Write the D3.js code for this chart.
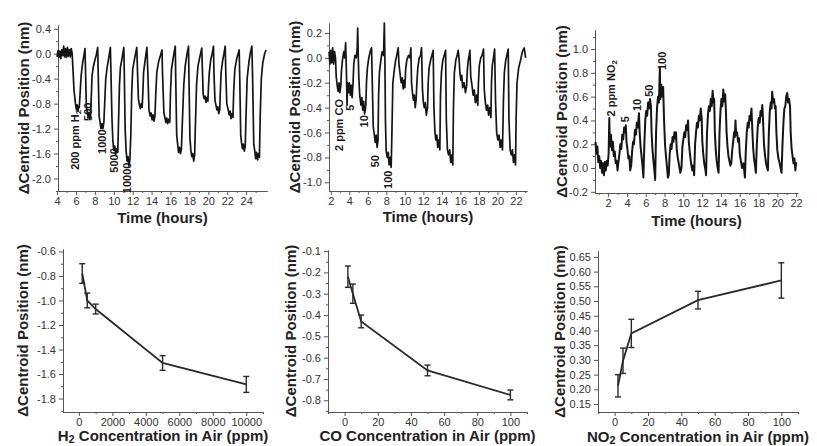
<!DOCTYPE html>
<html>
<head>
<meta charset="utf-8">
<script src="https://cdn.jsdelivr.net/npm/d3@7"></script>
<style>
body { margin: 0; background: #fff; }
svg { display: block; }
text { font-family: "Liberation Sans", Arial, sans-serif; fill: #262626; }
.axis path, .axis line { stroke: #555; stroke-width: 1; }
.axis text { font-size: 11px; fill: #333; }
.title { font-size: 15px; font-weight: bold; fill: #222; }
.note { font-size: 11px; font-weight: bold; fill: #1a1a1a; }
</style>
</head>
<body>
<svg id="fig" width="817" height="446"></svg>
<script>
// ---- top row: sensor response traces, [hours, nm]
const h2Trace = [
  [4.0,-0.05],[4.1,0.05],[4.2,-0.06],[4.3,0.04],[4.4,-0.08],[4.5,0.06],[4.6,-0.03],[4.7,0.12],[4.8,-0.05],[4.9,0.08],
  [5.0,-0.06],[5.1,0.1],[5.2,-0.04],[5.3,0.06],[5.4,-0.05],[5.5,0.08],[5.6,0.0],
  [5.7,-0.3],[5.8,-0.6],[5.95,-0.8],[6.05,-0.9],[6.12,-0.82],[6.2,-0.92],[6.28,-0.84],[6.35,-0.86],[6.45,-0.6],[6.55,-0.35],[6.7,-0.15],[6.85,-0.02],[6.95,0.08],
  [7.0,-0.2],[7.1,-0.85],[7.2,-0.95],[7.3,-1.02],[7.38,-0.94],[7.46,-1.05],[7.55,-0.98],[7.62,-0.7],[7.7,-0.35],[7.85,-0.2],[8.0,-0.1],[8.15,-0.02],[8.3,0.1],
  [8.35,-0.3],[8.45,-1.0],[8.55,-1.1],[8.65,-1.2],[8.75,-1.12],[8.85,-1.2],[8.95,-1.1],[9.05,-0.75],[9.15,-0.4],[9.3,-0.22],[9.45,-0.08],[9.64,0.1],
  [9.7,-0.3],[9.8,-1.0],[9.9,-1.4],[10.0,-1.55],[10.1,-1.48],[10.2,-1.62],[10.3,-1.52],[10.42,-1.58],[10.5,-1.1],[10.6,-0.5],[10.7,-0.22],[10.9,-0.05],[11.06,0.1],
  [11.12,-0.4],[11.2,-1.2],[11.3,-1.55],[11.4,-1.72],[11.5,-1.65],[11.6,-1.8],[11.7,-1.7],[11.8,-1.3],[11.9,-0.6],[12.0,-0.25],[12.2,-0.08],[12.43,0.1],
  [12.5,-0.25],[12.6,-0.72],[12.7,-0.82],[12.8,-0.88],[12.9,-0.8],[13.0,-0.86],[13.08,-0.6],[13.15,-0.3],[13.3,-0.12],[13.5,0.1],
  [13.6,-0.3],[13.72,-0.9],[13.85,-1.0],[13.95,-0.95],[14.05,-1.06],[14.15,-0.98],[14.25,-1.08],[14.35,-1.0],[14.45,-0.6],[14.55,-0.3],[14.75,-0.12],[14.95,-0.02],[15.1,0.06],
  [15.15,-0.3],[15.3,-0.95],[15.4,-1.02],[15.5,-1.1],[15.6,-1.03],[15.7,-1.12],[15.82,-1.05],[15.92,-1.1],[16.0,-0.6],[16.1,-0.25],[16.3,-0.05],[16.5,0.12],
  [16.55,-0.4],[16.65,-1.3],[16.75,-1.45],[16.85,-1.58],[16.95,-1.5],[17.05,-1.6],[17.15,-1.52],[17.25,-1.1],[17.4,-0.5],[17.55,-0.2],[17.75,0.0],[17.9,0.12],
  [17.95,-0.4],[18.05,-1.35],[18.15,-1.55],[18.25,-1.65],[18.35,-1.6],[18.45,-1.72],[18.55,-1.62],[18.62,-1.2],[18.75,-0.5],[18.9,-0.2],[19.1,-0.05],[19.3,0.09],
  [19.38,-0.3],[19.45,-0.65],[19.55,-0.72],[19.65,-0.68],[19.75,-0.78],[19.85,-0.7],[19.95,-0.76],[20.02,-0.5],[20.1,-0.3],[20.25,-0.1],[20.4,0.0],[20.54,0.12],
  [20.6,-0.35],[20.7,-0.75],[20.8,-0.82],[20.9,-0.9],[21.0,-0.85],[21.1,-0.96],[21.2,-0.9],[21.27,-0.6],[21.35,-0.3],[21.5,-0.12],[21.65,0.0],[21.78,0.12],
  [21.85,-0.35],[21.95,-0.8],[22.1,-0.9],[22.2,-0.98],[22.3,-0.92],[22.4,-1.04],[22.5,-0.96],[22.6,-1.02],[22.68,-0.6],[22.8,-0.25],[23.0,-0.08],[23.26,0.06],
  [23.32,-0.4],[23.42,-1.3],[23.5,-1.42],[23.6,-1.52],[23.7,-1.45],[23.8,-1.56],[23.9,-1.48],[23.98,-1.0],[24.1,-0.4],[24.3,-0.12],[24.45,0.02],[24.6,0.12],
  [24.68,-0.4],[24.8,-1.45],[24.9,-1.55],[25.0,-1.68],[25.1,-1.58],[25.2,-1.7],[25.3,-1.6],[25.4,-1.66],[25.48,-1.0],[25.6,-0.4],[25.75,-0.15],[25.95,0.0],[26.1,0.06]
]
const coTrace = [
  [1.8,0.05],[1.9,-0.05],[2.0,0.06],[2.1,-0.04],[2.2,0.08],[2.3,-0.05],[2.4,0.05],[2.5,0.0],
  [2.58,-0.15],[2.68,-0.22],[2.78,-0.27],[2.88,-0.2],[2.98,-0.28],[3.08,-0.22],[3.15,-0.1],[3.25,-0.02],[3.4,0.05],[3.5,0.0],[3.6,0.12],
  [3.68,-0.1],[3.75,-0.38],[3.8,-0.2],[3.9,-0.28],[4.0,-0.2],[4.1,-0.3],[4.2,-0.22],[4.3,-0.32],[4.4,-0.2],[4.48,-0.05],[4.6,0.02],[4.75,0.0],[4.85,0.08],[4.9,0.24],[4.95,0.05],
  [5.02,-0.15],[5.12,-0.3],[5.25,-0.38],[5.35,-0.32],[5.45,-0.42],[5.55,-0.35],[5.65,-0.45],[5.78,-0.38],[5.85,-0.2],[5.95,-0.08],[6.1,0.0],[6.25,0.05],[6.4,0.08],
  [6.48,-0.2],[6.58,-0.55],[6.7,-0.62],[6.8,-0.68],[6.9,-0.62],[7.0,-0.72],[7.1,-0.66],[7.16,-0.3],[7.25,-0.12],[7.4,-0.02],[7.55,0.05],[7.7,0.02],[7.78,0.28],[7.84,0.0],
  [7.9,-0.5],[7.98,-0.75],[8.1,-0.8],[8.2,-0.76],[8.3,-0.86],[8.42,-0.8],[8.52,-0.88],[8.6,-0.6],[8.7,-0.2],[8.85,-0.1],[9.0,-0.02],[9.15,0.03],[9.28,0.08],
  [9.36,-0.05],[9.5,-0.14],[9.6,-0.2],[9.72,-0.16],[9.82,-0.25],[9.92,-0.18],[10.0,-0.24],[10.08,-0.1],[10.2,-0.02],[10.4,0.02],[10.55,0.0],[10.65,0.08],
  [10.72,-0.2],[10.82,-0.28],[10.92,-0.34],[11.02,-0.3],[11.12,-0.4],[11.22,-0.33],[11.3,-0.2],[11.4,-0.08],[11.55,0.0],[11.7,0.02],[11.8,0.08],
  [11.9,-0.25],[12.0,-0.36],[12.1,-0.4],[12.2,-0.36],[12.32,-0.46],[12.45,-0.4],[12.52,-0.2],[12.62,-0.08],[12.78,-0.02],[12.92,0.02],[13.06,0.06],
  [13.14,-0.4],[13.25,-0.6],[13.35,-0.66],[13.45,-0.62],[13.55,-0.72],[13.68,-0.66],[13.78,-0.74],[13.85,-0.3],[13.95,-0.12],[14.1,-0.02],[14.25,0.02],[14.4,0.06],
  [14.48,-0.5],[14.6,-0.74],[14.72,-0.78],[14.84,-0.74],[14.96,-0.84],[15.08,-0.78],[15.18,-0.86],[15.25,-0.4],[15.35,-0.12],[15.5,-0.02],[15.65,0.02],[15.76,0.06],
  [15.85,0.0],[15.95,-0.12],[16.05,-0.18],[16.15,-0.14],[16.25,-0.24],[16.4,-0.2],[16.55,-0.28],[16.68,-0.22],[16.75,-0.1],[16.85,-0.02],[16.95,0.02],[17.03,0.06],
  [17.12,-0.15],[17.25,-0.22],[17.38,-0.3],[17.5,-0.26],[17.62,-0.36],[17.75,-0.3],[17.88,-0.38],[17.95,-0.2],[18.05,-0.06],[18.2,0.0],[18.35,0.02],[18.5,0.07],
  [18.58,-0.25],[18.7,-0.36],[18.82,-0.42],[18.95,-0.38],[19.05,-0.46],[19.18,-0.4],[19.3,-0.48],[19.36,-0.2],[19.45,-0.06],[19.58,0.0],[19.7,0.07],
  [19.8,-0.35],[19.92,-0.6],[20.05,-0.66],[20.18,-0.62],[20.3,-0.72],[20.42,-0.66],[20.55,-0.74],[20.65,-0.35],[20.75,-0.12],[20.9,-0.02],[21.05,0.03],[21.17,0.07],
  [21.25,-0.5],[21.38,-0.74],[21.5,-0.78],[21.62,-0.74],[21.74,-0.84],[21.86,-0.78],[21.96,-0.86],[22.02,-0.5],[22.12,-0.2],[22.3,-0.08],[22.5,-0.02],[22.7,0.05],[22.9,0.08],[23.05,0.0]
]
const no2Trace = [
  [0.65,0.22],[0.75,0.12],[0.85,0.18],[0.95,0.05],[1.05,0.1],[1.15,0.0],[1.25,0.06],[1.35,-0.04],[1.45,0.04],[1.55,-0.06],[1.65,0.05],[1.75,-0.02],[1.85,0.06],[1.95,0.02],
  [2.05,0.12],[2.12,0.42],[2.18,0.18],[2.3,0.28],[2.4,0.15],[2.5,0.22],[2.6,0.1],[2.7,0.14],[2.8,0.04],[2.9,0.06],[3.0,-0.02],[3.08,0.04],
  [3.2,0.12],[3.3,0.2],[3.4,0.16],[3.5,0.28],[3.6,0.24],[3.7,0.34],[3.8,0.3],[3.88,0.36],[3.95,0.22],[4.05,0.16],[4.15,0.08],[4.25,0.1],[4.35,-0.02],[4.45,0.02],
  [4.55,0.14],[4.65,0.22],[4.75,0.2],[4.85,0.32],[4.95,0.28],[5.05,0.38],[5.15,0.34],[5.28,0.46],[5.35,0.3],[5.45,0.18],[5.55,0.1],[5.65,0.02],[5.75,-0.08],
  [5.85,0.2],[5.95,0.4],[6.05,0.48],[6.15,0.44],[6.25,0.55],[6.35,0.5],[6.45,0.58],[6.55,0.52],[6.62,0.3],[6.72,0.15],[6.82,0.06],[6.92,-0.02],[7.0,-0.1],
  [7.1,0.3],[7.2,0.5],[7.3,0.6],[7.4,0.55],[7.5,0.84],[7.55,0.58],[7.65,0.7],[7.75,0.6],[7.85,0.68],[7.95,0.4],[8.05,0.2],[8.15,0.1],[8.25,0.02],[8.35,-0.08],
  [8.45,-0.06],[8.55,0.12],[8.65,0.2],[8.75,0.16],[8.85,0.26],[8.95,0.22],[9.05,0.3],[9.15,0.25],[9.22,0.3],[9.3,0.15],[9.42,0.08],[9.55,0.02],[9.68,-0.04],[9.8,0.0],
  [9.9,0.18],[10.0,0.24],[10.1,0.3],[10.2,0.26],[10.3,0.36],[10.4,0.32],[10.5,0.4],[10.58,0.22],[10.7,0.12],[10.82,0.04],[10.95,-0.02],[11.05,0.02],[11.15,-0.06],
  [11.25,0.2],[11.35,0.3],[11.45,0.38],[11.55,0.34],[11.65,0.44],[11.75,0.4],[11.85,0.5],[11.95,0.42],[12.02,0.22],[12.12,0.12],[12.22,0.04],[12.32,0.0],[12.42,-0.06],
  [12.52,0.3],[12.62,0.45],[12.72,0.52],[12.82,0.48],[12.92,0.58],[13.02,0.52],[13.12,0.65],[13.2,0.55],[13.28,0.58],[13.35,0.3],[13.45,0.15],[13.55,0.06],[13.65,0.0],[13.75,-0.04],
  [13.85,0.3],[13.95,0.48],[14.05,0.58],[14.15,0.52],[14.25,0.66],[14.35,0.56],[14.45,0.62],[14.52,0.5],[14.6,0.3],[14.7,0.18],[14.8,0.1],[14.9,0.06],[15.0,0.02],[15.1,0.04],
  [15.2,0.15],[15.3,0.22],[15.4,0.3],[15.48,0.26],[15.55,0.4],[15.62,0.28],[15.72,0.3],[15.82,0.22],[15.92,0.25],[16.0,0.12],[16.12,0.06],[16.25,0.0],[16.4,0.04],[16.55,-0.08],
  [16.65,0.15],[16.75,0.3],[16.85,0.38],[16.95,0.34],[17.05,0.44],[17.15,0.4],[17.25,0.5],[17.32,0.36],[17.42,0.18],[17.52,0.08],[17.62,0.02],[17.72,-0.04],
  [17.82,0.2],[17.92,0.35],[18.02,0.42],[18.12,0.38],[18.22,0.48],[18.32,0.44],[18.4,0.53],[18.48,0.4],[18.58,0.2],[18.7,0.1],[18.8,0.04],[18.92,0.0],[19.0,-0.02],
  [19.1,0.3],[19.2,0.48],[19.3,0.55],[19.38,0.5],[19.45,0.64],[19.55,0.55],[19.65,0.58],[19.75,0.5],[19.82,0.52],[19.9,0.3],[20.0,0.15],[20.12,0.08],[20.25,0.04],[20.35,0.0],[20.45,-0.04],
  [20.55,0.2],[20.65,0.38],[20.75,0.5],[20.85,0.52],[20.95,0.6],[21.05,0.63],[21.15,0.55],[21.25,0.58],[21.35,0.52],[21.42,0.3],[21.52,0.16],[21.62,0.1],[21.72,0.04],[21.82,0.08],[21.92,-0.02],[22.0,0.05]
]

// pulse annotations: [text, subscript] and where they sit in data units
const h2Notes = [["200 ppm H","2"],["500",""],["1000",""],["5000",""],["10000",""]]
const h2NoteAt = [[5.9,-1.38],[7.28,-0.93],[8.81,-1.41],[10.08,-1.71],[11.38,-1.99]]
const coNotes = [["2 ppm CO",""],["5",""],["10",""],["50",""],["100",""]]
const coNoteAt = [[2.92,-0.54],[4.05,-0.40],[5.57,-0.51],[6.76,-0.83],[8.16,-0.98]]
const no2Notes = [["2 ppm NO","2"],["5",""],["10",""],["50",""],["100",""]]
const no2NoteAt = [[2.37,0.67],[3.76,0.41],[5.09,0.53],[6.36,0.65],[7.74,0.90]]

// ---- bottom row: calibration curves
const h2Conc = [200, 500, 1000, 5000, 10000]
const h2Shift = [-0.78, -1.00, -1.07, -1.51, -1.685]
const h2Err = [0.08, 0.06, 0.04, 0.06, 0.065]
const coConc = [2, 5, 10, 50, 100]
const coShift = [-0.22, -0.30, -0.43, -0.66, -0.775]
const coErr = [0.05, 0.045, 0.03, 0.025, 0.023]
const no2Conc = [2, 5, 10, 50, 100]
const no2Shift = [0.212, 0.297, 0.39, 0.503, 0.57]
const no2Err = [0.038, 0.043, 0.048, 0.03, 0.06]

// ---- tick labels
const timeTicksA = [4, 6, 8, 10, 12, 14, 16, 18, 20, 22, 24]
const timeTicksB = [2, 4, 6, 8, 10, 12, 14, 16, 18, 20, 22]
const h2TraceY = [0.4, 0.0, -0.4, -0.8, -1.2, -1.6, -2.0]
const coTraceY = [0.2, 0.0, -0.2, -0.4, -0.6, -0.8, -1.0]
const no2TraceY = [1.0, 0.8, 0.6, 0.4, 0.2, 0.0, -0.2]
const h2ConcTicks = [0, 2000, 4000, 6000, 8000, 10000]
const ppmTicks = [0, 20, 40, 60, 80, 100]
const h2ShiftTicks = [-0.6, -0.8, -1.0, -1.2, -1.4, -1.6, -1.8]
const coShiftTicks = [-0.1, -0.2, -0.3, -0.4, -0.5, -0.6, -0.7, -0.8]
const no2ShiftTicks = [0.65, 0.60, 0.55, 0.50, 0.45, 0.40, 0.35, 0.30, 0.25, 0.20, 0.15]

const yTitle = "\u0394Centroid Position (nm)"

const svg = d3.select("#fig")

function midpoints(t) {
  const s = t.slice().sort((a, b) => a - b)
  const step = s[1] - s[0]
  return d3.range(s[0] - step / 2, s[s.length - 1] + step, step)
}

// axes frame in Origin style: left + bottom only, major and minor ticks outside
function frame(o) {
  const x = d3.scaleLinear().domain(o.xDom).range([o.box[0], o.box[1]])
  const y = d3.scaleLinear().domain(o.yDom).range([o.box[3], o.box[2]])
  const inX = v => v >= o.xDom[0] && v <= o.xDom[1]
  const inY = v => v >= o.yDom[0] && v <= o.yDom[1]
  const g = svg.append("g")

  g.append("g").attr("class", "axis")
    .attr("transform", "translate(0," + o.box[3] + ")")
    .call(d3.axisBottom(x).tickValues(o.xMinor.filter(inX)).tickSize(2).tickSizeOuter(0).tickFormat(""))
  g.append("g").attr("class", "axis")
    .attr("transform", "translate(0," + o.box[3] + ")")
    .call(d3.axisBottom(x).tickValues(o.xTicks).tickSize(4).tickSizeOuter(0).tickPadding(2).tickFormat(o.xFmt))
  g.append("g").attr("class", "axis")
    .attr("transform", "translate(" + o.box[0] + ",0)")
    .call(d3.axisLeft(y).tickValues(o.yMinor.filter(inY)).tickSize(2).tickSizeOuter(0).tickFormat(""))
  g.append("g").attr("class", "axis")
    .attr("transform", "translate(" + o.box[0] + ",0)")
    .call(d3.axisLeft(y).tickValues(o.yTicks).tickSize(4).tickSizeOuter(0).tickPadding(3).tickFormat(o.yFmt))

  g.append("text").attr("class", "title")
    .attr("transform", "translate(" + (o.box[0] - o.yTitleGap) + "," + (o.box[2] + o.box[3]) / 2 + ") rotate(-90)")
    .attr("text-anchor", "middle").attr("dy", "0.35em")
    .text(yTitle)

  const xt = g.append("text").attr("class", "title")
    .attr("x", (o.box[0] + o.box[1]) / 2).attr("y", o.xTitleY)
    .attr("text-anchor", "middle")
  o.xTitle.forEach(part => {
    if (part[1]) xt.append("tspan").attr("font-size", "11px").attr("dy", 2).text(part[0])
    else xt.append("tspan").attr("dy", part[2] || 0).text(part[0])
  })
  return {g, x, y}
}

const f1 = d => d.toFixed(1)
const f2 = d => d.toFixed(2)
const f0 = d => String(d)

function drawTrace(p, data, width) {
  p.g.append("path")
    .datum(data)
    .attr("fill", "none")
    .attr("stroke", "#151515")
    .attr("stroke-width", width)
    .attr("stroke-linejoin", "round")
    .attr("d", d3.line().x(d => p.x(d[0])).y(d => p.y(d[1])))
}

function drawNotes(p, notes, at) {
  notes.forEach((n, i) => {
    const t = p.g.append("text").attr("class", "note")
      .attr("transform", "translate(" + p.x(at[i][0]) + "," + p.y(at[i][1]) + ") rotate(-90)")
      .attr("text-anchor", "middle").attr("dy", "0.35em")
    t.append("tspan").text(n[0])
    if (n[1]) t.append("tspan").attr("font-size", "8px").attr("dy", 2).text(n[1])
  })
}

function drawCurve(p, xs, ys, es) {
  const pts = xs.map((v, i) => ({x: v, y: ys[i], e: es[i]}))
  p.g.append("path")
    .datum(pts)
    .attr("fill", "none").attr("stroke", "#2a2a2a").attr("stroke-width", 1.8)
    .attr("d", d3.line().x(d => p.x(d.x)).y(d => p.y(d.y)))
  const bars = p.g.append("g").attr("stroke", "#2a2a2a").attr("stroke-width", 1.4)
  bars.selectAll("line.v").data(pts).enter().append("line").attr("class", "v")
    .attr("x1", d => p.x(d.x)).attr("x2", d => p.x(d.x))
    .attr("y1", d => p.y(d.y - d.e)).attr("y2", d => p.y(d.y + d.e))
  bars.selectAll("line.t").data(pts).enter().append("line").attr("class", "t")
    .attr("x1", d => p.x(d.x) - 3).attr("x2", d => p.x(d.x) + 3)
    .attr("y1", d => p.y(d.y + d.e)).attr("y2", d => p.y(d.y + d.e))
  bars.selectAll("line.b").data(pts).enter().append("line").attr("class", "b")
    .attr("x1", d => p.x(d.x) - 3).attr("x2", d => p.x(d.x) + 3)
    .attr("y1", d => p.y(d.y - d.e)).attr("y2", d => p.y(d.y - d.e))
}

const timeTitle = [["Time (hours)", false]]

// top-left: H2 response
const pA = frame({box: [58, 267, 25, 191], xDom: [4.1, 26.2], yDom: [-2.2, 0.46],
  xTicks: timeTicksA, yTicks: h2TraceY, xMinor: d3.range(5, 27, 2), yMinor: midpoints(h2TraceY),
  xFmt: f0, yFmt: f1, yTitleGap: 34, xTitle: timeTitle, xTitleY: 223})
drawTrace(pA, h2Trace, 1.7)
drawNotes(pA, h2Notes, h2NoteAt)

// top-middle: CO response
const pB = frame({box: [329, 527, 23, 191], xDom: [1.8, 23.2], yDom: [-1.07, 0.28],
  xTicks: timeTicksB, yTicks: coTraceY, xMinor: d3.range(3, 24, 2), yMinor: midpoints(coTraceY),
  xFmt: f0, yFmt: f1, yTitleGap: 34, xTitle: timeTitle, xTitleY: 222})
drawTrace(pB, coTrace, 1.7)
drawNotes(pB, coNotes, coNoteAt)

// top-right: NO2 response
const pC = frame({box: [595, 798, 30, 193], xDom: [0.6, 22.2], yDom: [-0.21, 1.16],
  xTicks: timeTicksB, yTicks: no2TraceY, xMinor: d3.range(1, 23, 2), yMinor: midpoints(no2TraceY),
  xFmt: f0, yFmt: f1, yTitleGap: 33, xTitle: timeTitle, xTitleY: 226})
drawTrace(pC, no2Trace, 2)
drawNotes(pC, no2Notes, no2NoteAt)

// bottom-left: H2 calibration
const pD = frame({box: [63, 263, 249, 412], xDom: [-950, 11000], yDom: [-1.91, -0.58],
  xTicks: h2ConcTicks, yTicks: h2ShiftTicks, xMinor: midpoints(h2ConcTicks), yMinor: midpoints(h2ShiftTicks),
  xFmt: f0, yFmt: f1, yTitleGap: 40,
  xTitle: [["H", false], ["2", true], [" Concentration in Air (ppm)", false, -2]], xTitleY: 441})
drawCurve(pD, h2Conc, h2Shift, h2Err)

// bottom-middle: CO calibration
const pE = frame({box: [328, 527, 250, 412], xDom: [-10, 110], yDom: [-0.855, -0.095],
  xTicks: ppmTicks, yTicks: coShiftTicks, xMinor: midpoints(ppmTicks), yMinor: midpoints(coShiftTicks),
  xFmt: f0, yFmt: f1, yTitleGap: 37,
  xTitle: [["CO Concentration in Air (ppm)", false]], xTitleY: 441})
drawCurve(pE, coConc, coShift, coErr)

// bottom-right: NO2 calibration
const pF = frame({box: [598, 798, 251, 412], xDom: [-10, 110], yDom: [0.123, 0.67],
  xTicks: ppmTicks, yTicks: no2ShiftTicks, xMinor: midpoints(ppmTicks), yMinor: [],
  xFmt: f0, yFmt: f2, yTitleGap: 38,
  xTitle: [["NO", false], ["2", true], [" Concentration in Air (ppm)", false, -2]], xTitleY: 442})
drawCurve(pF, no2Conc, no2Shift, no2Err)
</script>
</body>
</html>
